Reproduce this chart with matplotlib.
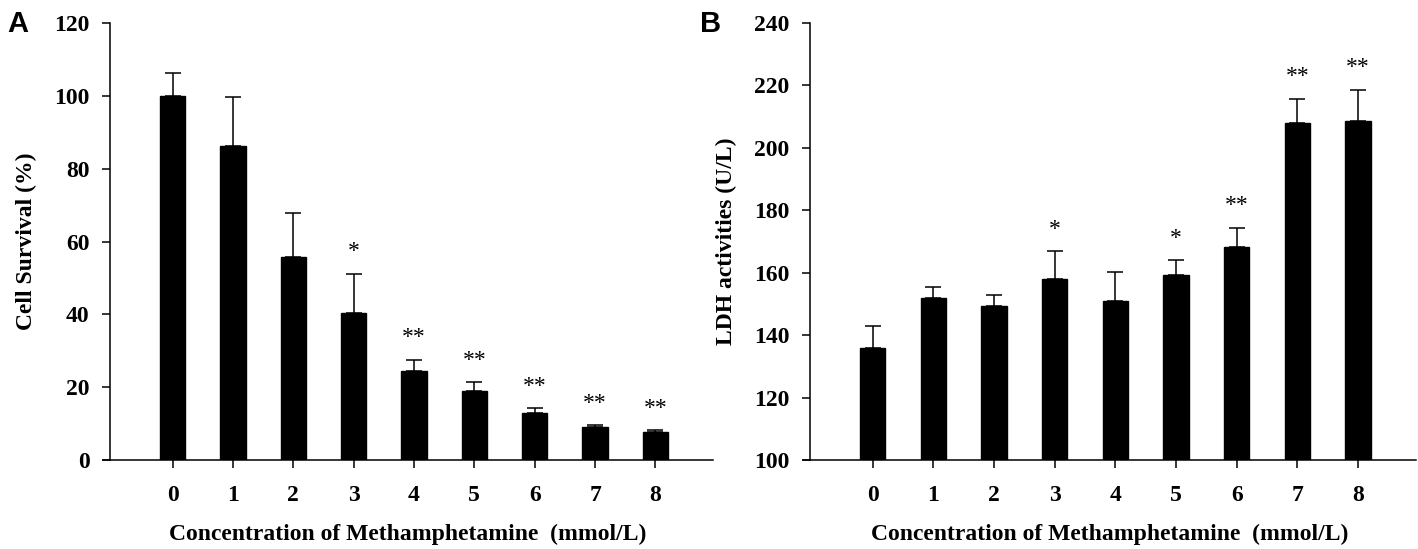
import matplotlib.pyplot as plt

conc = [0, 1, 2, 3, 4, 5, 6, 7, 8]

survival = [100, 86.2, 55.7, 40.5, 24.4, 18.9, 12.8, 9.1, 7.7]
survival_err = [6.2, 13.5, 12.1, 10.7, 3.2, 2.5, 1.4, 0.6, 0.5]
survival_sig = ['', '', '', '*', '**', '**', '**', '**', '**']

ldh = [136.0, 152.0, 149.2, 158.0, 151.0, 159.3, 168.3, 208.0, 208.6]
ldh_err = [7.0, 3.3, 3.8, 9.0, 9.2, 4.9, 6.2, 7.8, 10.1]
ldh_sig = ['', '', '', '*', '', '*', '**', '**', '**']

serif = ['Liberation Serif', 'DejaVu Serif']
plt.rcParams['font.family'] = serif
plt.rcParams['font.weight'] = 'bold'

fig = plt.figure(figsize=(14.18, 5.49), dpi=100)
axA = fig.add_axes([0.0727, 0.162, 0.430, 0.796])
axB = fig.add_axes([0.5663, 0.162, 0.432, 0.796])


def panel(ax, vals, errs, sig, ylim, yticks, ylabel):
    lower = [0] * len(vals)
    ax.bar(conc, vals, width=0.42, color='black', edgecolor='black',
           yerr=[lower, errs], capsize=6,
           error_kw=dict(ecolor='black', elinewidth=1.1, capthick=1.1))
    for x, v, e, s in zip(conc, vals, errs, sig):
        if s:
            ax.annotate(s, (x, v + e), xytext=(0, 8), textcoords='offset points',
                        ha='center', va='bottom', fontsize=17, fontweight='normal')
    ax.set_xlim(-1.15, 8.95)
    ax.set_ylim(*ylim)
    ax.set_yticks(yticks)
    ax.set_xticks(conc)
    ax.spines['top'].set_visible(False)
    ax.spines['right'].set_visible(False)
    ax.spines['left'].set_position(('data', -1.03))
    for sp in ['left', 'bottom']:
        ax.spines[sp].set_linewidth(1.1)
    ax.tick_params(axis='both', direction='out', length=6, width=1.1,
                   labelsize=17)
    ax.tick_params(axis='x', pad=12)
    ax.tick_params(axis='y', pad=9)
    ax.set_xlabel('Concentration of Methamphetamine  (mmol/L)', fontsize=17,
                  fontweight='bold', labelpad=13)
    ax.set_ylabel(ylabel, fontsize=17, fontweight='bold', labelpad=12)


panel(axA, survival, survival_err, survival_sig, (0, 120),
      [0, 20, 40, 60, 80, 100, 120], 'Cell Survival (%)')
panel(axB, ldh, ldh_err, ldh_sig, (100, 240),
      [100, 120, 140, 160, 180, 200, 220, 240], 'LDH activities (U/L)')

fig.text(0.005, 0.942, 'A', fontsize=21, fontweight='bold',
         family=['Liberation Sans', 'DejaVu Sans'])
fig.text(0.494, 0.942, 'B', fontsize=21, fontweight='bold',
         family=['Liberation Sans', 'DejaVu Sans'])

fig.savefig('out.png', dpi=100)
